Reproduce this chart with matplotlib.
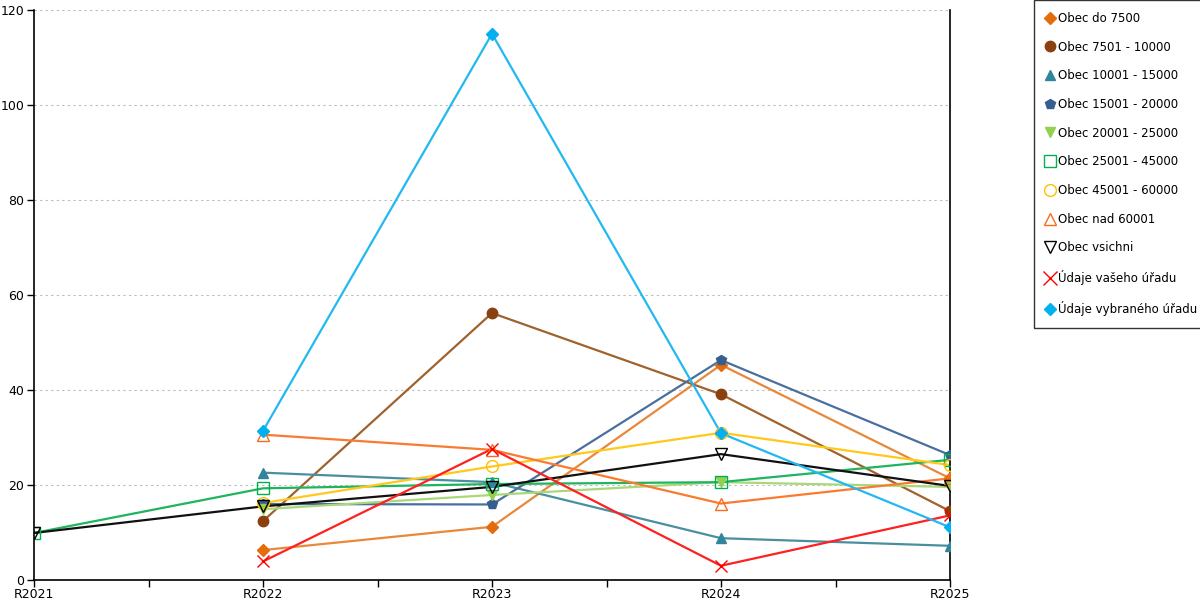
import numpy as np
import matplotlib.pyplot as plt
from matplotlib.lines import Line2D

years = ['R2021', 'R2022', 'R2023', 'R2024', 'R2025']

nan = np.nan
do_7500 = [nan, 6.3, 11.2, 45.3, 21.4]
obec_7501_10000 = [nan, 12.4, 56.2, 39.1, 14.5]
obec_10001_15000 = [nan, 22.6, 20.6, 8.8, 7.2]
obec_15001_20000 = [nan, 16.0, 15.9, 46.3, 26.3]
obec_20001_25000 = [nan, 14.9, 17.9, 20.6, 19.6]
obec_25001_45000 = [9.9, 19.3, 20.2, 20.6, 25.3]
obec_45001_60000 = [nan, 16.2, 23.9, 31.0, 24.2]
nad_60001 = [nan, 30.6, 27.4, 16.1, 21.4]
vsichni = [9.9, 15.5, 19.6, 26.5, 19.8]
vaseho = [nan, 3.9, 27.6, 3.0, 13.6]
vybraneho = [nan, 31.4, 115.0, 30.9, 11.1]

labels = ['Obec do 7500', 'Obec 7501 - 10000', 'Obec 10001 - 15000', 'Obec 15001 - 20000',
          'Obec 20001 - 25000', 'Obec 25001 - 45000', 'Obec 45001 - 60000', 'Obec nad 60001',
          'Obec vsichni', 'Údaje vašeho úřadu', 'Údaje vybraného úřadu']
series = [do_7500, obec_7501_10000, obec_10001_15000, obec_15001_20000, obec_20001_25000,
          obec_25001_45000, obec_45001_60000, nad_60001, vsichni, vaseho, vybraneho]
# (line colour, marker colour, marker, filled)
styles = [('#e8883a', '#e46c0a', 'D', True),
          ('#a0622d', '#8b4010', 'o', True),
          ('#4a8fa0', '#31859c', '^', True),
          ('#4a6f9e', '#365f91', 'p', True),
          ('#a8d878', '#92d050', 'v', True),
          ('#1fb45e', '#00b050', 's', False),
          ('#ffc81a', '#ffc000', 'o', False),
          ('#fa7a30', '#f96b1c', '^', False),
          ('#111111', '#000000', 'v', False),
          ('#ff2020', '#ff0000', 'x', True),
          ('#22b8f0', '#00b0f0', 'D', True)]

plt.rcParams['font.family'] = ['DejaVu Sans']
fig = plt.figure(figsize=(12, 6), dpi=100)
ax = fig.add_axes([34/1200, 20/600, 916/1200, 570/600])

x = np.arange(len(years))
handles = []
for vals, lab, (lc, mc, mk, filled) in zip(series, labels, styles):
    v = np.array(vals, dtype=float)
    m = ~np.isnan(v)
    ax.plot(x[m], v[m], color=lc, lw=1.6, zorder=2)
    ms = 6.5 if mk == 'D' else 7.5
    if mk == 'x':
        ax.plot(x[m], v[m], ls='none', marker='x', ms=9, mew=1, color=mc, zorder=3)
        h = Line2D([], [], ls='none', marker='x', ms=10, mew=1, color=mc)
    elif filled:
        ax.plot(x[m], v[m], ls='none', marker=mk, ms=ms, color=mc, mec=mc, zorder=3)
        h = Line2D([], [], ls='none', marker=mk, ms=ms, color=mc, mec=mc)
    else:
        ax.plot(x[m], v[m], ls='none', marker=mk, ms=ms + 1, mfc='none', mec=mc, mew=1, zorder=3)
        h = Line2D([], [], ls='none', marker=mk, ms=ms + 1, mfc='none', mec=mc, mew=1)
    handles.append(h)

ax.set_xlim(0, 4)
ax.set_ylim(0, 120)
ax.set_yticks(range(0, 121, 20))
ax.set_xticks(x)
ax.set_xticklabels(years)
ax.set_xticks([0.5, 1.5, 2.5, 3.5], minor=True)
ax.tick_params(axis='both', which='both', direction='out', length=5, width=1, labelsize=9, pad=2)
ax.tick_params(axis='x', which='minor', length=5)
ax.tick_params(axis='x', pad=1)
ax.grid(axis='y', ls=(0, (2, 3)), color='#bbbbbb', lw=0.8)
ax.set_axisbelow(True)
ax.spines['top'].set_visible(False)
for s in ['left', 'bottom', 'right']:
    ax.spines[s].set_color('black')
    ax.spines[s].set_linewidth(1.2)

leg = fig.legend(handles, labels, loc='upper left', bbox_to_anchor=(1034/1200, 1.0),
                 frameon=True, fancybox=False, edgecolor='black', fontsize=8.5,
                 handlelength=0.7, handletextpad=0.35, labelspacing=1.33,
                 borderpad=1.0, borderaxespad=0)
leg.get_frame().set_linewidth(1)

fig.savefig('out.png', dpi=100)
